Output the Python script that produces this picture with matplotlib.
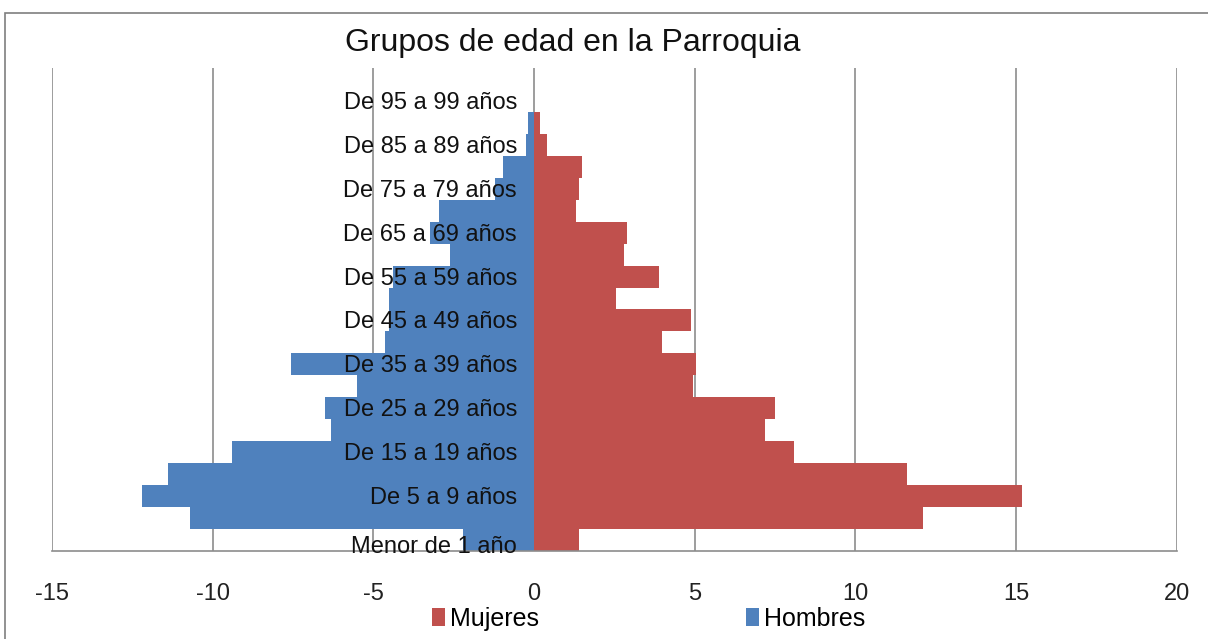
import matplotlib
matplotlib.use("Agg")
import matplotlib.pyplot as plt
from matplotlib.patches import Rectangle
import numpy as np

plt.rcParams["font.family"] = ["Liberation Sans", "DejaVu Sans"]

# ============================================================
# Datos (porcentaje de población por grupo de edad)
# ============================================================
GRUPOS = [
    "Menor de 1 año", "De 1 a 4 años", "De 5 a 9 años", "De 10 a 14 años",
    "De 15 a 19 años", "De 20 a 24 años", "De 25 a 29 años", "De 30 a 34 años",
    "De 35 a 39 años", "De 40 a 44 años", "De 45 a 49 años", "De 50 a 54 años",
    "De 55 a 59 años", "De 60 a 64 años", "De 65 a 69 años", "De 70 a 74 años",
    "De 75 a 79 años", "De 80 a 84 años", "De 85 a 89 años", "De 90 a 94 años",
    "De 95 a 99 años", "De 100 años y más",
]
MUJERES = [1.4, 12.1, 15.2, 11.6, 8.1, 7.2, 7.5, 4.95, 5.05, 4.0, 4.9,
           2.55, 3.9, 2.8, 2.9, 1.3, 1.4, 1.5, 0.4, 0.2, 0.0, 0.0]
HOMBRES = [2.2, 10.7, 12.2, 11.4, 9.4, 6.3, 6.5, 5.5, 7.55, 4.65, 4.5,
           4.5, 4.4, 2.6, 3.25, 2.95, 1.2, 0.95, 0.25, 0.2, 0.0, 0.0]
X_TICKS = [-15, -10, -5, 0, 5, 10, 15, 20]

COLOR_MUJ = "#C0504D"
COLOR_HOM = "#4F81BD"
GRID = "#8C8C8C"

fig = plt.figure(figsize=(12.08, 6.39), dpi=100)
ax = fig.add_axes([0.043, 0.1377, 0.931, 0.756])

y = np.arange(len(GRUPOS))
ax.barh(y, MUJERES, height=1.0, color=COLOR_MUJ, label="Mujeres", zorder=2)
ax.barh(y, -np.array(HOMBRES), height=1.0, color=COLOR_HOM, label="Hombres", zorder=2)

ax.set_xlim(-15, 20)
ax.set_ylim(-0.5, len(GRUPOS) - 0.5)
ax.set_xticks(X_TICKS)
ax.set_xticklabels([str(t) for t in X_TICKS], fontsize=17, color="#222222")
ax.tick_params(axis="x", length=0, pad=23)
ax.set_yticks([])
ax.grid(axis="x", color=GRID, linewidth=1.2, zorder=0)

for s in ["top", "left", "right"]:
    ax.spines[s].set_visible(False)
ax.spines["bottom"].set_color(GRID)
ax.spines["bottom"].set_linewidth(1.2)

# etiquetas de categoría junto al eje 0 (una sí, una no)
for i in range(0, len(GRUPOS), 2):
    dy = -7 if i == 0 else -2
    ax.annotate(GRUPOS[i], xy=(0, i), xytext=(-17, dy), textcoords="offset pixels",
                ha="right", va="center", fontsize=17, color="#111111", zorder=3)

fig.text(0.474, 0.933, "Grupos de edad en la Parroquia", ha="center", va="center",
         fontsize=23, color="#111111")

fig.legend(loc="center", bbox_to_anchor=(0.537, 0.032), ncol=2, frameon=False,
           fontsize=18, handlelength=0.5, handleheight=0.75, handletextpad=0.2,
           columnspacing=8.3)

# borde del área del gráfico
fig.patches.append(Rectangle((0.004, -0.01), 1.02, 0.99, transform=fig.transFigure,
                             fill=False, edgecolor="#7F7F7F", linewidth=1.2))

fig.savefig("out.png", dpi=100)
